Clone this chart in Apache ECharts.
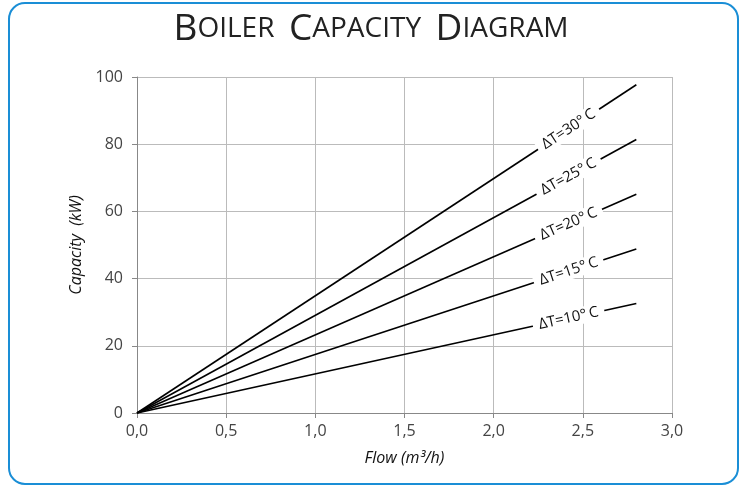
<!DOCTYPE html>
<html><head><meta charset="utf-8">
<script src="https://cdn.jsdelivr.net/npm/echarts@6/dist/echarts.min.js"></script>
<style>html,body{margin:0;padding:0;background:#fff}#c{width:742px;height:488px}</style>
</head><body><div id="c"></div>
<script>
var deltaT = [30, 25, 20, 15, 10];
var labels = ['ΔT=30°C', 'ΔT=25°C', 'ΔT=20°C', 'ΔT=15°C', 'ΔT=10°C'];
var flowEnd = 2.8;
var capacityEnd = [97.7, 81.4, 65.1, 48.8, 32.6];
var labelFlow = 2.42;
var xTicks = [0, 0.5, 1.0, 1.5, 2.0, 2.5, 3.0];
var yTicks = [0, 20, 40, 60, 80, 100];

var chart = echarts.init(document.getElementById('c'));
var FONT = 'Open Sans';
var series = deltaT.map(function (d, i) {
  return {
    type: 'line', name: labels[i], showSymbol: false, symbol: 'none',
    lineStyle: { color: '#000', width: 1.6 }, z: 2, silent: true,
    data: [[0, 0], [flowEnd, capacityEnd[i]]]
  };
});
series.push({
  type: 'custom', z: 5, silent: true,
  data: deltaT.map(function (d, i) { return [i]; }),
  renderItem: function (params, api) {
    var i = api.value(0);
    var p0 = api.coord([0, 0]);
    var p1 = api.coord([flowEnd, capacityEnd[i]]);
    var pc = api.coord([labelFlow, capacityEnd[i] * labelFlow / flowEnd]);
    var ang = Math.atan2(p0[1] - p1[1], p1[0] - p0[0]);
    return {
      type: 'text', x: pc[0], y: pc[1], rotation: ang,
      style: {
        text: labels[i].replace('°C', '°\u2009C'), fill: '#111', font: '15px "' + FONT + '"',
        align: 'center', verticalAlign: 'middle',
        backgroundColor: '#fff', padding: [1, 6, 1, 6]
      }
    };
  }
});

var option = {
  animation: false,
  backgroundColor: '#fff',
  graphic: [{
    type: 'rect', shape: { x: 9, y: 3, width: 729, height: 481, r: 16 },
    style: { fill: 'none', stroke: '#1a8ed6', lineWidth: 2 }, z: 0
  }, {
    type: 'text', left: 'center', top: 11,
    style: {
      rich: {
        b: { fontSize: 37, fontFamily: 'Open Sans', fill: '#222', fontWeight: 400 },
        s: { fontSize: 28, fontFamily: 'Open Sans', fill: '#222', fontWeight: 400 }
      },
      text: '{b|B}{s|OILER  }{b|C}{s|APACITY  }{b|D}{s|IAGRAM}'
    }
  }],
  grid: { left: 137, right: 70, top: 77, bottom: 75 },
  xAxis: {
    type: 'value', min: 0, max: 3, interval: 0.5,
    name: 'Flow (m³/h)', nameLocation: 'middle', nameGap: 37,
    nameTextStyle: { fontFamily: FONT, fontStyle: 'italic', fontSize: 16, color: '#111' },
    axisLine: { lineStyle: { color: '#888' } },
    axisTick: { show: true, length: 5, lineStyle: { color: '#888' } },
    axisLabel: { margin: 10, fontFamily: FONT, fontSize: 16, color: '#444',
      formatter: function (v) { return v.toFixed(1).replace('.', ','); } },
    splitLine: { show: true, lineStyle: { color: '#bbb', width: 1 } }
  },
  yAxis: {
    type: 'value', min: 0, max: 100, interval: 20,
    name: 'Capacity  (kW)', nameLocation: 'middle', nameGap: 47,
    nameTextStyle: { fontFamily: FONT, fontStyle: 'italic', fontSize: 16, color: '#111' },
    axisLine: { show: true, lineStyle: { color: '#888' } },
    axisTick: { show: true, length: 5, lineStyle: { color: '#888' } },
    axisLabel: { margin: 14, fontFamily: FONT, fontSize: 16, color: '#444' },
    splitLine: { show: true, lineStyle: { color: '#bbb', width: 1 } }
  },
  series: series
};
chart.setOption(option);
</script></body></html>
